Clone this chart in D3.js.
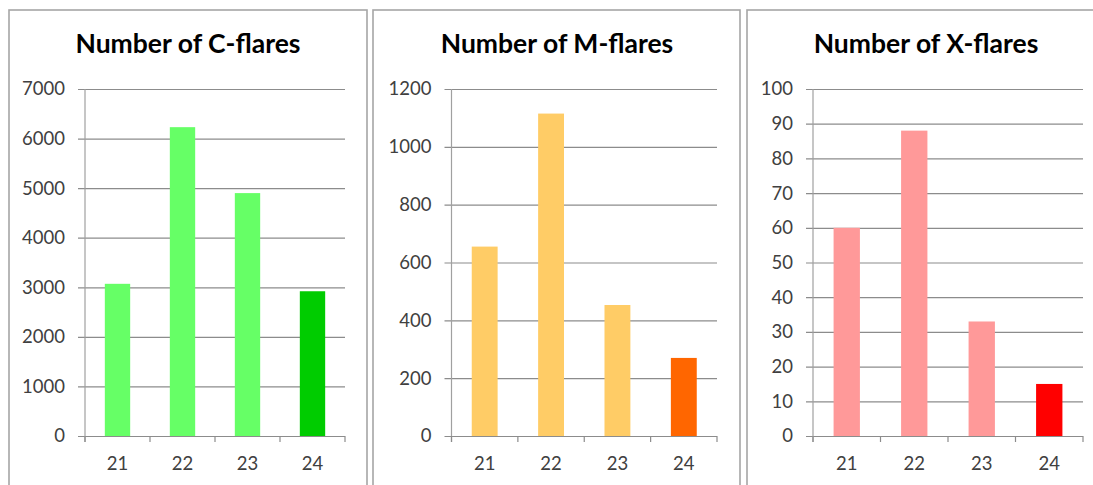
<!DOCTYPE html>
<html>
<head>
<meta charset="utf-8">
<script src="https://cdn.jsdelivr.net/npm/d3@7"></script>
<style>
  html, body { margin: 0; padding: 0; background: #fff; }
  svg { display: block; }
  .title { font-family: Lato, "Open Sans", sans-serif; font-weight: bold; fill: #000; }
  .axis text { font-family: Lato, "Open Sans", sans-serif; fill: #404040; font-size: 18.5px; }
</style>
</head>
<body>
<svg id="chart" width="1093" height="485"></svg>
<script>
// Solar cycles on the category axis
const cycles = ["21", "22", "23", "24"];

// Flare counts per solar cycle
const cFlares = [3070, 6230, 4900, 2920];
const mFlares = [655, 1115, 453, 270];
const xFlares = [60, 88, 33, 15];

// Y-axis tick values
const cTicks = [0, 1000, 2000, 3000, 4000, 5000, 6000, 7000];
const mTicks = [0, 200, 400, 600, 800, 1000, 1200];
const xTicks = [0, 10, 20, 30, 40, 50, 60, 70, 80, 90, 100];

// Titles and bar colours (earlier cycles light, current cycle dark)
const titles = ["Number of C-flares", "Number of M-flares", "Number of X-flares"];
const cColors = ["#66ff66", "#66ff66", "#66ff66", "#00cc00"];
const mColors = ["#ffcc66", "#ffcc66", "#ffcc66", "#ff6600"];
const xColors = ["#ff9999", "#ff9999", "#ff9999", "#ff0000"];

const svg = d3.select("#chart");

const panels = [
  { title: titles[0], values: cFlares, ticks: cTicks, colors: cColors,
    box: [9, 10, 367, 520], x0: 85, x1: 345, titleX: 188 },
  { title: titles[1], values: mFlares, ticks: mTicks, colors: mColors,
    box: [373, 10, 740, 520], x0: 451.5, x1: 717, titleX: 557 },
  { title: titles[2], values: xFlares, ticks: xTicks, colors: xColors,
    box: [747, 10, 1110, 520], x0: 813, x1: 1083, titleX: 926 }
];

const yTop = 89, yBottom = 436;

panels.forEach(p => {
  const g = svg.append("g");

  // panel frame
  g.append("rect")
    .attr("x", p.box[0]).attr("y", p.box[1])
    .attr("width", p.box[2] - p.box[0]).attr("height", p.box[3] - p.box[1])
    .attr("fill", "#fff").attr("stroke", "#a6a6a6").attr("stroke-width", 1.6);

  const x = d3.scaleBand().domain(cycles).range([p.x0, p.x1])
    .paddingInner(0.61).paddingOuter(0.305);
  const y = d3.scaleLinear().domain([0, d3.max(p.ticks)]).range([yBottom, yTop]);

  // horizontal gridlines with short outward ticks (y axis)
  const yAxis = d3.axisLeft(y).tickValues(p.ticks)
    .tickSize(-(p.x1 - p.x0 + 7)).tickFormat(d3.format("d"));
  const gy = g.append("g").attr("class", "axis")
    .attr("transform", `translate(${p.x0 - 7},0)`).call(yAxis)
    .attr("font-size", null).attr("font-family", null);
  gy.select(".domain").remove();
  gy.selectAll(".tick line").attr("stroke", "#8c8c8c").attr("stroke-width", 1.2);
  gy.selectAll(".tick text").attr("x", -13).attr("fill", "#404040");

  // vertical axis line
  g.append("line")
    .attr("x1", p.x0).attr("x2", p.x0).attr("y1", yTop).attr("y2", yBottom + 6)
    .attr("stroke", "#a0a0a0").attr("stroke-width", 1.2);

  // category boundary ticks
  const bounds = d3.range(cycles.length + 1).map(i => p.x0 + i * x.step());
  g.selectAll(".ctick").data(bounds).join("line")
    .attr("x1", d => d).attr("x2", d => d)
    .attr("y1", yBottom).attr("y2", yBottom + 6)
    .attr("stroke", "#8c8c8c").attr("stroke-width", 1.2);

  // bars
  g.selectAll(".bar").data(p.values).join("rect")
    .attr("x", (d, i) => x(cycles[i]))
    .attr("width", x.bandwidth())
    .attr("y", d => y(d))
    .attr("height", d => y(0) - y(d))
    .attr("fill", (d, i) => p.colors[i]);

  // category labels
  const xAxis = d3.axisBottom(x).tickSize(0).tickPadding(21);
  const gx = g.append("g").attr("class", "axis")
    .attr("transform", `translate(0,${yBottom})`).call(xAxis)
    .attr("font-size", null).attr("font-family", null);
  gx.select(".domain").remove();
  gx.selectAll(".tick text").attr("fill", "#404040");

  // title
  g.append("text").attr("class", "title")
    .attr("x", p.titleX).attr("y", 53)
    .attr("text-anchor", "middle")
    .style("font-size", "26.5px")
    .text(p.title);
});
</script>
</body>
</html>
